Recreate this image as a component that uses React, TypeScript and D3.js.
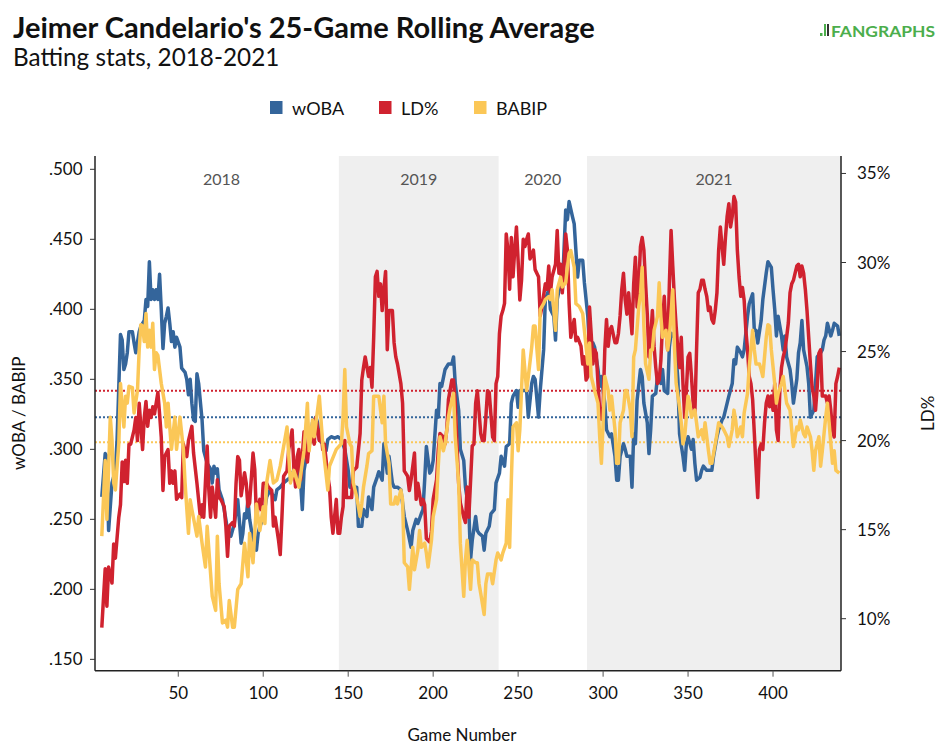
import React from 'react';
import * as d3 from 'd3';

const WIDTH = 948;
const HEIGHT = 750;

const titleText = "Jeimer Candelario's 25-Game Rolling Average";
const subtitleText = 'Batting stats, 2018-2021';
const xAxisTitle = 'Game Number';
const leftAxisTitle = 'wOBA / BABIP';
const rightAxisTitle = 'LD%';

const seriesNames = ['wOBA', 'LD%', 'BABIP'];
const seriesColors = ['#34659b', '#d0222f', '#fbc757'];

const seasons = [
  { year: '2018', start: 6.5, end: 144.5, shaded: false },
  { year: '2019', start: 144.5, end: 238.5, shaded: true },
  { year: '2020', start: 238.5, end: 290.5, shaded: false },
  { year: '2021', start: 290.5, end: 440, shaded: true },
];

const xTicks = [50, 100, 150, 200, 250, 300, 350, 400];
const leftTicks = [0.15, 0.2, 0.25, 0.3, 0.35, 0.4, 0.45, 0.5];
const rightTicks = [10, 15, 20, 25, 30, 35];

const wobaAvg = 0.323;
const ldAvg = 22.8;
const babipAvg = 0.305;

const woba: [number, number][] = [
  [5,.266],[7,.297],[8,.295],[9,.242],[11,.276],[13,.285],[14,.307],[16,.382],[17,.378],[18,.357],[19,.361],[20,.369],[21,.384],[23,.384],[24,.376],[25,.369],[27,.384],[28,.388],[29,.390],[30,.392],[31,.407],[32,.402],[33,.434],[34,.407],[35,.414],[36,.407],[37,.414],[38,.407],[39,.425],[40,.400],[41,.372],[42,.390],[43,.395],[44,.401],[45,.390],[46,.377],[47,.384],[48,.373],[49,.380],[51,.373],[52,.358],[54,.355],[55,.350],[56,.339],[57,.350],[58,.333],[59,.321],[60,.320],[61,.354],[62,.347],[64,.321],[65,.299],[67,.290],[69,.286],[70,.276],[71,.288],[72,.283],[73,.286],[74,.271],[76,.264],[78,.250],[79,.242],[81,.238],[83,.247],[85,.264],[87,.233],[88,.240],[89,.254],[90,.251],[91,.264],[92,.250],[94,.235],[96,.228],[97,.240],[98,.245],[100,.250],[102,.266],[104,.271],[107,.264],[108,.271],[110,.273],[112,.276],[114,.278],[116,.280],[118,.285],[120,.292],[122,.276],[123,.257],[124,.285],[126,.299],[128,.307],[129,.319],[131,.323],[132,.319],[133,.307],[135,.304],[137,.299],[138,.307],[140,.309],[142,.308],[144,.309],
  [146,.307],[148,.300],[150,.285],[151,.273],[153,.273],[155,.273],[156,.245],[158,.245],[159,.257],[161,.252],[162,.266],[164,.257],[165,.273],[167,.280],[168,.284],[170,.278],[171,.304],[173,.283],[174,.295],[176,.276],[177,.273],[179,.273],[181,.271],[183,.252],[185,.242],[187,.230],[188,.242],[190,.250],[191,.247],[193,.254],[194,.257],[195,.278],[196,.302],[198,.283],[199,.285],[200,.292],[202,.328],[203,.323],[204,.347],[205,.345],[207,.357],[208,.359],[209,.361],[211,.361],[212,.366],[213,.347],[215,.328],[216,.300],[218,.292],[219,.273],[221,.257],[222,.221],[223,.235],[225,.252],[226,.242],[227,.240],[229,.238],[230,.228],[231,.240],[233,.245],[234,.254],[236,.257],[237,.276],[239,.283],[240,.295],[242,.288],[243,.302],[245,.304],[246,.333],[247,.338],[249,.342],[250,.330],[251,.342],[253,.342],[255,.342],[256,.323],[258,.347],[259,.352],[260,.350],[262,.323],[263,.342],[265,.371],[266,.407],[268,.414],[269,.400],[271,.395],[272,.378],[273,.407],[275,.419],[276,.414],[278,.471],[279,.464],[280,.477],[282,.466],[283,.461],[285,.423],[286,.435],
  [288,.435],[289,.419],[291,.395],[292,.373],[294,.376],[295,.373],[297,.357],[298,.345],[299,.352],[301,.333],[302,.314],[304,.309],[305,.311],[307,.295],[308,.278],[309,.278],[310,.295],[312,.304],[313,.300],[314,.295],[316,.295],[317,.273],[318,.311],[319,.304],[320,.335],[322,.357],[323,.352],[324,.333],[326,.319],[327,.297],[328,.314],[329,.338],[331,.340],[332,.352],[334,.347],[335,.357],[336,.342],[338,.340],[339,.373],[340,.383],[342,.380],[343,.366],[344,.350],[345,.311],[347,.295],[348,.285],[349,.304],[350,.309],[352,.300],[353,.307],[354,.290],[355,.278],[357,.280],[358,.285],[359,.288],[361,.285],[362,.285],[364,.285],[365,.295],[367,.309],[368,.314],[370,.321],[371,.323],[373,.333],[374,.338],[376,.347],[377,.364],[378,.361],[379,.373],[381,.369],[382,.366],[383,.371],[385,.395],[386,.404],[388,.411],[389,.385],[390,.385],[391,.376],[393,.392],[394,.407],[396,.426],[397,.434],[399,.430],[400,.414],[401,.400],[402,.381],[403,.395],[405,.381],[406,.371],[407,.381],[408,.366],[410,.357],[411,.347],[412,.333],[414,.350],[415,.369],[416,.376],[417,.392],[418,.371],[420,.359],[421,.347],[422,.323],[424,.328],[425,.347],[426,.366],[428,.369],[429,.371],[430,.378],[431,.381],[432,.390],[434,.381],[435,.385],[436,.390],[438,.388],[439,.381],
];

const ld: [number, number][] = [
  [5,9.5],[7,12.8],[8,10.7],[9,12.9],[11,12.0],[12,14.2],[13,13.4],[15,15.7],[16,16.4],[17,18.8],[18,17.7],[19,18.9],[20,17.6],[21,19.8],[22,19.8],[24,20.6],[25,21.3],[26,20.0],[27,22.1],[28,20.8],[29,19.5],[30,21.3],[31,22.2],[32,20.8],[33,21.7],[34,21.3],[35,21.9],[36,21.5],[38,22.7],[39,21.5],[40,20.2],[41,17.2],[42,19.1],[44,19.5],[45,17.6],[46,18.3],[47,17.6],[48,18.3],[49,16.7],[51,17.0],[52,16.8],[53,19.8],[55,19.1],[56,20.0],[58,20.8],[59,19.3],[61,17.6],[63,15.7],[64,16.4],[65,15.7],[67,19.7],[68,17.2],[69,15.7],[70,17.4],[72,15.7],[73,17.8],[74,16.8],[75,16.7],[77,16.3],[78,15.2],[79,13.5],[80,15.2],[82,15.4],[83,15.2],[84,17.6],[85,19.1],[86,18.9],[87,16.9],[89,18.2],[90,17.6],[91,16.3],[92,16.5],[94,19.3],[95,18.4],[96,15.7],[98,16.7],[99,16.1],[100,17.6],[102,17.6],[103,17.4],[105,17.2],[106,15.2],[107,15.7],[109,14.4],[110,13.6],[111,15.7],[112,18.0],[114,18.3],[115,19.5],[117,20.6],[118,18.5],[119,17.4],[120,19.1],[121,19.5],[122,17.8],[124,20.5],[125,19.5],[126,18.8],[127,19.8],[128,20.6],[130,19.8],[131,21.3],[133,20.0],[134,20.6],[135,19.5],[136,19.8],[138,18.0],[139,17.4],[140,15.7],[141,14.8],[143,16.7],[144,14.8],
  [145,14.8],[146,15.7],[147,16.3],[148,20.0],[149,16.8],[151,16.8],[152,16.8],[153,18.3],[155,18.5],[157,20.4],[158,23.4],[159,24.1],[160,24.7],[162,23.6],[163,24.1],[164,23.0],[165,25.8],[166,29.2],[167,29.5],[168,28.1],[169,28.8],[170,27.3],[171,28.5],[172,29.5],[173,25.1],[174,27.3],[176,27.3],[177,25.5],[178,24.7],[179,24.3],[181,23.2],[182,22.1],[183,18.3],[185,18.0],[186,17.2],[187,17.8],[189,19.3],[190,16.7],[191,17.6],[193,16.4],[194,16.7],[195,16.4],[196,14.5],[198,14.3],[199,14.9],[200,16.7],[202,17.8],[203,19.5],[204,20.4],[206,20.2],[207,19.8],[208,20.6],[209,22.3],[211,23.4],[212,23.4],[213,22.1],[215,17.6],[216,16.5],[218,15.7],[219,15.4],[220,17.4],[221,15.7],[223,19.7],[224,19.8],[225,22.1],[226,22.8],[228,20.4],[229,20.0],[230,20.0],[231,21.3],[232,22.8],[233,22.7],[235,20.2],[236,20.0],[237,23.2],[238,23.6],
  [239,26.0],[240,27.0],[241,27.3],[242,27.7],[243,31.6],[244,30.7],[245,28.5],[246,31.4],[247,29.2],[248,30.7],[249,32.0],[250,30.1],[251,27.9],[252,29.0],[253,31.3],[254,30.9],[255,31.3],[256,31.6],[257,30.2],[259,30.7],[260,29.6],[262,29.2],[263,27.0],[264,27.5],[266,28.8],[267,28.5],[268,29.8],[269,28.3],[270,29.2],[272,29.9],[273,31.8],[274,29.4],[275,29.9],[276,28.3],[277,29.8],[278,31.6],[279,30.7],[280,27.7],[281,25.8],[283,26.8],[284,25.6],[285,25.8],[287,25.3],
  [288,24.3],[289,24.7],[290,23.4],[291,23.6],[292,27.5],[293,26.0],[294,24.3],[295,25.1],[296,24.9],[297,23.2],[298,21.7],[299,21.2],[300,21.9],[301,25.1],[302,26.8],[303,25.3],[304,26.2],[305,26.4],[307,25.5],[308,25.5],[309,26.0],[310,27.0],[311,28.5],[312,29.4],[313,27.9],[314,27.1],[315,28.3],[317,26.0],[318,28.8],[319,30.3],[320,27.5],[321,28.8],[322,30.9],[323,31.4],[324,30.7],[325,28.8],[326,27.1],[327,24.7],[328,25.8],[329,27.3],[330,25.3],[331,24.1],[332,23.2],[333,23.4],[334,24.5],[335,26.6],[336,28.1],[337,26.2],[338,25.1],[339,28.8],[340,31.8],[341,29.8],[342,27.9],[343,26.4],[344,25.1],[345,24.1],[346,25.8],[347,23.2],[348,21.3],[349,22.8],[350,24.7],[351,24.9],[352,23.6],[353,22.1],[354,21.5],[355,25.1],[356,28.3],[357,28.5],[358,29.0],[359,29.0],[360,28.5],[361,28.1],[362,27.3],[363,27.5],[364,26.8],[365,26.6],[366,27.3],[367,28.3],[368,30.7],[369,32.0],[370,30.9],[371,29.9],[372,31.4],[373,32.6],[374,33.3],[375,32.0],[376,32.6],[377,33.7],[378,33.4],[379,30.7],[380,29.2],[381,28.1],[382,28.6],[383,27.9],[384,26.2],[385,25.1],[386,23.6],[387,23.2],[388,22.3],[389,20.4],[390,18.5],[391,16.8],[392,19.5],[393,19.8],[394,19.5],[395,21.0],[396,22.1],[397,22.5],[398,21.9],[399,22.5],[400,21.7],[401,23.2],[402,20.6],[403,20.0],[404,22.8],[405,24.1],[406,24.7],[407,25.1],[408,25.8],[409,26.6],[410,28.3],[411,28.8],[412,29.0],[413,29.4],[414,29.8],[415,29.9],[416,29.2],[417,29.8],[418,29.4],[419,28.5],[420,27.3],[421,25.8],[422,24.3],[423,23.0],[424,22.5],[425,21.7],[426,23.0],[427,24.9],[428,25.1],[429,22.5],[430,22.5],[431,22.5],[432,22.1],[433,22.5],[434,21.7],[435,20.6],[436,20.2],[437,23.2],[438,23.6],[439,24.1],
];

const babip: [number, number][] = [
  [5,.238],[7,.292],[8,.250],[10,.323],[11,.307],[12,.276],[13,.271],[15,.304],[16,.347],[18,.316],[19,.338],[20,.333],[21,.345],[23,.344],[24,.326],[26,.342],[27,.371],[28,.389],[29,.388],[30,.377],[31,.397],[32,.373],[33,.385],[34,.373],[35,.390],[36,.357],[37,.369],[38,.367],[40,.347],[42,.333],[43,.316],[44,.333],[45,.316],[46,.300],[48,.323],[49,.300],[51,.323],[53,.300],[54,.276],[56,.240],[57,.264],[58,.257],[61,.238],[62,.252],[64,.233],[66,.216],[67,.245],[70,.195],[72,.185],[73,.238],[74,.204],[76,.176],[78,.178],[79,.173],[80,.192],[82,.173],[83,.173],[85,.200],[87,.204],[89,.233],[91,.209],[92,.240],[94,.219],[96,.261],[98,.242],[100,.259],[101,.247],[102,.276],[104,.292],[106,.276],[108,.278],[110,.288],[111,.295],[114,.316],[116,.276],[118,.285],[121,.273],[124,.299],[126,.333],[127,.299],[129,.321],[130,.309],[133,.338],[135,.304],[138,.271],[139,.288],[143,.300],
  [146,.304],[147,.323],[148,.357],[149,.316],[151,.304],[152,.302],[153,.276],[155,.266],[157,.252],[158,.261],[159,.273],[161,.288],[162,.297],[164,.299],[165,.338],[167,.338],[168,.338],[170,.319],[171,.338],[172,.304],[174,.290],[175,.261],[177,.261],[178,.266],[179,.261],[181,.271],[182,.264],[183,.219],[185,.216],[186,.200],[188,.230],[189,.214],[191,.228],[192,.242],[193,.230],[195,.233],[196,.226],[197,.216],[199,.235],[200,.252],[202,.264],[203,.288],[204,.309],[206,.299],[207,.304],[209,.323],[210,.330],[212,.340],[213,.309],[215,.276],[216,.233],[218,.195],[219,.221],[220,.235],[222,.200],[223,.221],[225,.219],[226,.219],[227,.204],[228,.197],[230,.182],[231,.204],[232,.211],[234,.211],[235,.204],[237,.221],[238,.226],
  [240,.221],[241,.226],[243,.233],[244,.264],[245,.230],[246,.278],[247,.316],[249,.319],[250,.299],[251,.314],[253,.371],[255,.342],[256,.352],[258,.373],[259,.388],[260,.388],[262,.357],[263,.400],[265,.404],[266,.407],[268,.409],[269,.407],[270,.414],[272,.385],[273,.414],[275,.423],[276,.416],[278,.419],[279,.430],[280,.440],[281,.442],[283,.430],[284,.404],[286,.402],
  [288,.397],[289,.385],[291,.361],[292,.376],[293,.352],[295,.342],[297,.333],[298,.309],[299,.290],[300,.319],[301,.352],[303,.342],[304,.328],[305,.338],[307,.314],[308,.290],[309,.290],[310,.319],[312,.328],[313,.342],[314,.342],[316,.328],[317,.309],[318,.366],[319,.371],[321,.402],[322,.411],[323,.430],[324,.388],[325,.361],[327,.350],[328,.371],[329,.371],[330,.385],[332,.395],[333,.419],[334,.395],[335,.380],[337,.385],[338,.371],[339,.380],[341,.414],[342,.373],[343,.347],[345,.330],[346,.319],[347,.304],[348,.309],[350,.338],[351,.333],[352,.323],[354,.328],[355,.319],[356,.309],[358,.314],[359,.307],[360,.319],[362,.299],[363,.290],[364,.290],[366,.304],[367,.311],[368,.319],[370,.316],[371,.314],[373,.309],[374,.302],[376,.314],[377,.328],[378,.321],[379,.309],[381,.316],[382,.309],[383,.326],[385,.340],[386,.359],[388,.385],[389,.371],[390,.361],[392,.361],[393,.357],[394,.352],[396,.380],[397,.389],[398,.388],[399,.371],[401,.347],[402,.333],[403,.340],[405,.347],[406,.352],[407,.342],[408,.333],[410,.328],[411,.314],[412,.302],[414,.316],[415,.314],[416,.321],[418,.311],[419,.309],[420,.316],[422,.309],[423,.299],[424,.285],[425,.299],[427,.309],[428,.288],[429,.299],[431,.323],[432,.333],[433,.319],[435,.290],[436,.299],[437,.285],[439,.283],
];

const PLOT = { left: 95, right: 841, top: 156, bottom: 670.7 };
const FONT = 'Lato, "Open Sans", sans-serif';

export default function App() {
  const x = d3.scaleLinear().domain([1, 440]).range([PLOT.left, PLOT.right]);
  const yL = d3.scaleLinear().domain([0.1419, 0.5095]).range([PLOT.bottom, PLOT.top]);
  const yR = d3.scaleLinear().domain([7.08, 35.98]).range([PLOT.bottom, PLOT.top]);

  const lineL = d3.line<[number, number]>().x(d => x(d[0])).y(d => yL(d[1]));
  const lineR = d3.line<[number, number]>().x(d => x(d[0])).y(d => yR(d[1]));
  const fmtL = (v: number) => d3.format('.3f')(v).replace(/^0/, '');

  const legendItems = [
    { name: seriesNames[0], color: seriesColors[0], x: 270 },
    { name: seriesNames[1], color: seriesColors[1], x: 379 },
    { name: seriesNames[2], color: seriesColors[2], x: 474 },
  ];

  const refLines = [
    { y: yR(ldAvg), color: seriesColors[1] },
    { y: yL(wobaAvg), color: seriesColors[0] },
    { y: yL(babipAvg), color: seriesColors[2] },
  ];

  return (
    <svg width={WIDTH} height={HEIGHT} style={{ position: 'absolute', left: 0, top: 0, background: '#fff' }} fontFamily={FONT}>
      <rect x={0} y={0} width={WIDTH} height={HEIGHT} fill="#fff" />
      <text x={13} y={38} fontSize={29} fontWeight={700} fill="#111">{titleText}</text>
      <text x={13} y={66} fontSize={24.3} fill="#111">{subtitleText}</text>

      {/* FanGraphs logo */}
      <g>
        <rect x={820} y={33} width={2.5} height={3} fill="#4cae4c" />
        <rect x={824} y={24} width={2} height={12} fill="#4cae4c" />
        <rect x={827} y={24} width={2} height={12} fill="#333" />
        <text x={831} y={36.5} fontSize={16} fontWeight={700} fill="#4cae4c" textLength={104} lengthAdjust="spacingAndGlyphs">FANGRAPHS</text>
      </g>

      {/* legend */}
      {legendItems.map(it => (
        <g key={it.name}>
          <rect x={it.x} y={101} width={12.5} height={13} fill={it.color} />
          <text x={it.x + 22} y={115} fontSize={18} fill="#111">{it.name}</text>
        </g>
      ))}

      {/* shaded seasons */}
      {seasons.filter(s => s.shaded).map(s => (
        <rect key={s.year} x={x(s.start)} y={PLOT.top} width={x(s.end) - x(s.start)} height={PLOT.bottom - PLOT.top} fill="#efefef" />
      ))}
      {seasons.map(s => (
        <text key={'l' + s.year} x={x((s.start + s.end) / 2)} y={185} textAnchor="middle" fontSize={16} fill="#555">{s.year}</text>
      ))}

      {/* reference lines */}
      {refLines.map((r, i) => (
        <line key={i} x1={PLOT.left} x2={PLOT.right} y1={r.y} y2={r.y} stroke={r.color} strokeWidth={2} strokeDasharray="2,2" />
      ))}

      {/* series */}
      <path d={lineL(woba) || ''} fill="none" stroke={seriesColors[0]} strokeWidth={3.5} strokeLinejoin="round" />
      <path d={lineR(ld) || ''} fill="none" stroke={seriesColors[1]} strokeWidth={3.5} strokeLinejoin="round" />
      <path d={lineL(babip) || ''} fill="none" stroke={seriesColors[2]} strokeWidth={3.5} strokeLinejoin="round" />

      {/* axes */}
      <line x1={PLOT.left} x2={PLOT.left} y1={PLOT.top} y2={PLOT.bottom} stroke="#222" strokeWidth={1.5} />
      <line x1={PLOT.right} x2={PLOT.right} y1={PLOT.top} y2={PLOT.bottom} stroke="#222" strokeWidth={1.5} />
      <line x1={PLOT.left} x2={PLOT.right} y1={PLOT.bottom} y2={PLOT.bottom} stroke="#222" strokeWidth={1.5} />

      {xTicks.map(t => (
        <g key={'x' + t}>
          <line x1={x(t)} x2={x(t)} y1={PLOT.bottom} y2={PLOT.bottom + 6} stroke="#555" strokeWidth={1} />
          <text x={x(t)} y={699} textAnchor="middle" fontSize={17} fill="#111">{t}</text>
        </g>
      ))}
      {leftTicks.map(t => (
        <g key={'l' + t}>
          <line x1={PLOT.left - 5} x2={PLOT.left} y1={yL(t)} y2={yL(t)} stroke="#333" strokeWidth={1} />
          <text x={82.5} y={yL(t) + 6} textAnchor="end" fontSize={17} fill="#111">{fmtL(t)}</text>
        </g>
      ))}
      {rightTicks.map(t => (
        <g key={'r' + t}>
          <line x1={PLOT.right} x2={PLOT.right + 5} y1={yR(t)} y2={yR(t)} stroke="#333" strokeWidth={1} />
          <text x={857} y={yR(t) + 6} fontSize={17} fill="#111">{t + '%'}</text>
        </g>
      ))}

      <text x={(PLOT.left + PLOT.right) / 2 - 6} y={741} textAnchor="middle" fontSize={17} fill="#111">{xAxisTitle}</text>
      <text transform={`translate(25,${(PLOT.top + PLOT.bottom) / 2}) rotate(-90)`} textAnchor="middle" fontSize={17} fill="#111">{leftAxisTitle}</text>
      <text transform={`translate(934,${(PLOT.top + PLOT.bottom) / 2}) rotate(-90)`} textAnchor="middle" fontSize={17} fill="#111">{rightAxisTitle}</text>
    </svg>
  );
}
